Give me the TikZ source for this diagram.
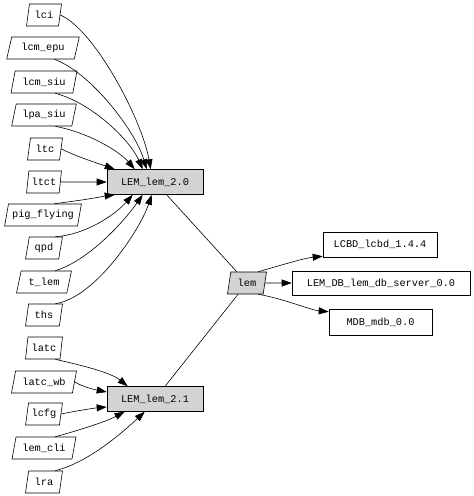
\documentclass[tikz,border=0pt]{standalone}
\usepackage{fontspec}
\newfontfamily\gvmono{Liberation Mono}
\usetikzlibrary{shapes.geometric,arrows.meta}
\definecolor{gvgray}{HTML}{D3D3D3}
\begin{document}
\begin{tikzpicture}[x=1pt,y=-1pt,
  base/.style={draw,line width=0.6pt,inner sep=0pt,font=\gvmono\fontsize{10.3}{11}\selectfont},
  para/.style={base,trapezium,trapezium left angle=76,trapezium right angle=104,trapezium stretches=true,minimum height=22pt,minimum width=#1},
  wpara/.style={para=#1,trapezium left angle=70,trapezium right angle=110},
  box/.style={base,rectangle,minimum width=#1,minimum height=25pt},
  conn/.style={line width=0.6pt,-{Triangle[length=10pt,width=7pt]}},
  plain/.style={line width=0.6pt}
]
\useasboundingbox (0,0) rectangle (474,496);
\fill[white] (0,0) rectangle (474,496);

% left nodes, upper group
\node[para=35pt] (lci) at (44,15) {lci};
\node[wpara=73pt] (lcmepu) at (43,48) {lcm\_epu};
\node[wpara=66pt] (lcmsiu) at (44,82) {lcm\_siu};
\node[wpara=65pt] (lpasiu) at (44,115) {lpa\_siu};
\node[para=35pt] (ltc) at (45,149) {ltc};
\node[para=35pt] (ltct) at (44,182) {ltct};
\node[wpara=77pt] (pig) at (43,215) {pig\_flying};
\node[para=37pt] (qpd) at (44,248) {qpd};
\node[wpara=55pt] (tlem) at (44,282) {t\_lem};
\node[para=37pt] (ths) at (44,315) {ths};
% lower group
\node[para=37pt] (latc) at (44,348) {latc};
\node[wpara=65pt] (latcwb) at (44,382) {latc\_wb};
\node[para=37pt] (lcfg) at (44,414) {lcfg};
\node[wpara=64pt] (lemcli) at (44,448) {lem\_cli};
\node[para=37pt] (lra) at (44,482) {lra};

% central nodes
\node[box=96pt,fill=gvgray] (L20) at (155,182) {LEM\_lem\_2.0};
\node[box=96pt,fill=gvgray] (L21) at (155,399) {LEM\_lem\_2.1};
\node[para=39pt,fill=gvgray] (lem) at (247,283) {lem};

% right nodes
\node[box=114pt] (lcbd) at (380,244.5) {LCBD\_lcbd\_1.4.4};
\node[box=178pt,minimum height=24pt] (lemdb) at (381,283) {LEM\_DB\_lem\_db\_server\_0.0};
\node[box=103pt,minimum height=26pt] (mdb) at (380.5,322) {MDB\_mdb\_0.0};

% edges into LEM_lem_2.0
\draw[conn] (lci.east) .. controls (95,30) and (142,120) .. ([xshift=44pt]L20.north west);
\draw[conn] (lcmepu.south east) .. controls (90,72) and (135,130) .. ([xshift=40pt]L20.north west);
\draw[conn] (lcmsiu.south east) .. controls (92,103) and (130,140) .. ([xshift=36pt]L20.north west);
\draw[conn] (lpasiu.south east) .. controls (90,133) and (120,152) .. ([xshift=28pt]L20.north west);
\draw[conn] (ltc.east) .. controls (80,158) and (100,164) .. ([xshift=8pt]L20.north west);
\draw[conn] (ltct.east) -- (L20.west);
\draw[conn] (pig.north east) .. controls (92,199) and (105,196) .. ([xshift=8pt]L20.south west);
\draw[conn] (qpd.north east) .. controls (85,235) and (115,215) .. ([xshift=26pt]L20.south west);
\draw[conn] (tlem.north east) .. controls (90,260) and (125,220) .. ([xshift=36pt]L20.south west);
\draw[conn] (ths.north east) .. controls (95,298) and (140,230) .. ([xshift=45pt]L20.south west);

% edges into LEM_lem_2.1
\draw[conn] (latc.south east) .. controls (80,365) and (110,372) .. ([xshift=21pt]L21.north west);
\draw[conn] (latcwb.east) .. controls (85,388) and (97,390) .. ([yshift=7pt]L21.west);
\draw[conn] (lcfg.east) .. controls (75,411) and (95,408) .. ([yshift=-8pt]L21.west);
\draw[conn] (lemcli.north east) .. controls (80,430) and (105,422) .. ([xshift=18pt]L21.south west);
\draw[conn] (lra.north east) .. controls (90,462) and (125,430) .. ([xshift=38pt]L21.south west);

% undirected links to lem
\draw[plain] (L20) -- (lem);
\draw[plain] (L21) -- (lem);

% lem to right nodes
\draw[conn] (lem.north east) .. controls (285,264) and (305,258) .. ([yshift=1pt]lcbd.south west);
\draw[conn] (lem.east) -- (lemdb.west);
\draw[conn] (lem.south east) .. controls (285,299) and (310,310) .. ([yshift=-3pt]mdb.north west);
\end{tikzpicture}
\end{document}
